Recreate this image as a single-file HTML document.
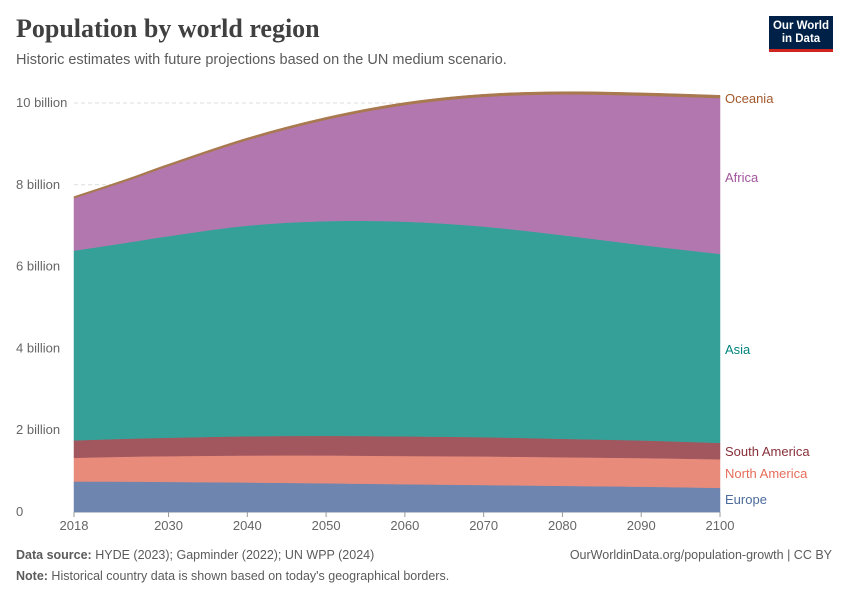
<!DOCTYPE html>
<html><head><meta charset="utf-8"><style>
body{margin:0;background:#fff;font-family:"Liberation Sans",sans-serif;}
#wrap{position:relative;width:850px;height:600px;overflow:hidden;}
h1{position:absolute;left:16px;top:14px;margin:0;font-family:"Liberation Serif",serif;font-size:26px;font-weight:bold;color:#404040;}
.sub{position:absolute;left:16px;top:52px;font-size:14.5px;color:#5b5b5b;}
.logo{position:absolute;left:769px;top:16px;width:64px;height:36px;background:#002147;color:#fff;font-size:11.5px;font-weight:bold;text-align:center;line-height:13px;padding-top:4px;box-sizing:border-box;border-bottom:3px solid #ce261e;}
.foot{position:absolute;font-size:12.5px;color:#5b5b5b;}
</style></head><body><div id="wrap">
<h1>Population by world region</h1>
<div class="sub">Historic estimates with future projections based on the UN medium scenario.</div>
<div class="logo">Our World<br>in Data</div>
<svg id="chart" width="850" height="600" style="position:absolute;left:0;top:0"></svg>
<div class="foot" style="left:16px;top:548px"><b>Data source:</b> HYDE (2023); Gapminder (2022); UN WPP (2024)</div>
<div class="foot" style="right:18px;top:548px">OurWorldinData.org/population-growth | CC BY</div>
<div class="foot" style="left:16px;top:569px"><b>Note:</b> Historical country data is shown based on today's geographical borders.</div>
</div>
<script>
const years=[2018,2025,2030,2040,2050,2060,2070,2080,2090,2100];
const europe=[0.746,0.744,0.736,0.722,0.703,0.68,0.66,0.64,0.62,0.59];
const northAmerica=[0.58,0.61,0.63,0.66,0.68,0.69,0.70,0.70,0.70,0.70];
const southAmerica=[0.425,0.44,0.45,0.47,0.48,0.48,0.47,0.45,0.43,0.40];
const asia=[4.64,4.80,4.93,5.15,5.25,5.25,5.15,4.98,4.78,4.62];
const africa=[1.28,1.52,1.71,2.09,2.48,2.85,3.17,3.44,3.65,3.81];
const oceania=[0.041,0.046,0.049,0.053,0.057,0.061,0.064,0.066,0.068,0.069];
const yTicks=[0,2,4,6,8,10];
const xTicks=[2018,2030,2040,2050,2060,2070,2080,2090,2100];
const NS="http://www.w3.org/2000/svg",svg=document.getElementById('chart');
const X=y=>74+(y-2018)/(2100-2018)*646;
const Y=v=>512-v*40.9;
function mk(t,a){const e=document.createElementNS(NS,t);for(const k in a)e.setAttribute(k,a[k]);svg.appendChild(e);return e;}
function smooth(pts,start){
 let d=(start?'M':'L')+pts[0][0]+','+pts[0][1];
 for(let i=0;i<pts.length-1;i++){
  const p0=pts[Math.max(i-1,0)],p1=pts[i],p2=pts[i+1],p3=pts[Math.min(i+2,pts.length-1)];
  const c1=[p1[0]+(p2[0]-p0[0])/6,p1[1]+(p2[1]-p0[1])/6];
  const c2=[p2[0]-(p3[0]-p1[0])/6,p2[1]-(p3[1]-p1[1])/6];
  d+='C'+c1+' '+c2+' '+p2;
 }
 return d;
}
yTicks.forEach(t=>{
 const l=mk('line',{x1:74,x2:720,y1:Y(t),y2:Y(t),stroke:t?'#ddd':'#999','stroke-dasharray':t?'4,3':''});
 
 
 const tx=mk('text',{x:16,y:Y(t)+4,'font-size':13,fill:'#666'});tx.textContent=t?t+' billion':'0';
 
 
});
const series=[["Europe",europe,"#6e85b0","#4c6a9c"],["North America",northAmerica,"#e88b7a","#e56e5a"],["South America",southAmerica,"#a2575f","#883039"],["Asia",asia,"#35a098","#00847e"],["Africa",africa,"#b377af","#a2559c"],["Oceania",oceania,"#a8784f","#a2592c"]];
let base=years.map(()=>0);
const labelY={"Europe":500,"North America":474,"South America":452,"Asia":350,"Africa":178,"Oceania":99};
series.forEach(([name,vals,col,lc])=>{
 const top=base.map((b,i)=>b+vals[i]);
 const topPts=years.map((y,i)=>[X(y),Y(top[i])]);
 const basePts=years.map((y,i)=>[X(y),Y(base[i])]).reverse();
 const d=smooth(topPts,true)+smooth(basePts,false)+'Z';
 const p=mk('path',{d:d,fill:col,stroke:col,'stroke-width':0.5});
 
 
 const t=mk('text',{x:725,y:labelY[name]+4,'font-size':13,fill:lc});t.textContent=name;
 
 
 base=top;
});
xTicks.forEach(t=>{
 const l=mk('line',{x1:X(t),x2:X(t),y1:512,y2:517,stroke:'#999'});
 
 
 const tx=mk('text',{x:X(t),y:530,'font-size':13,fill:'#666','text-anchor':'middle'});tx.textContent=t;
 
 
});
</script></body></html>
